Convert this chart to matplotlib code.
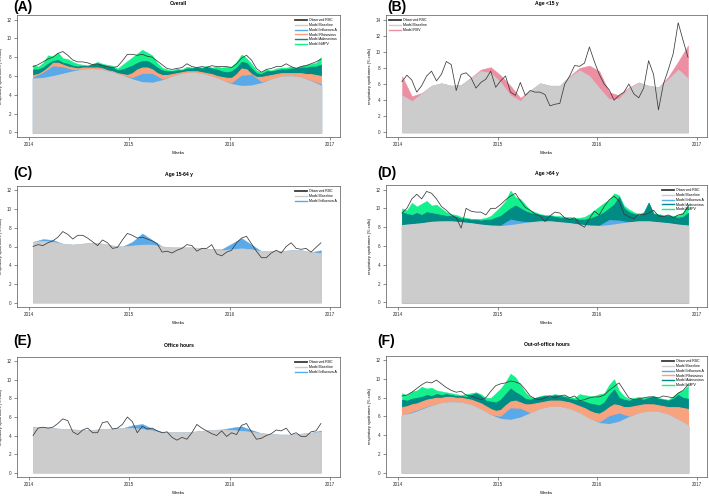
import numpy as np
import matplotlib
matplotlib.use("Agg")
import matplotlib.pyplot as plt
from matplotlib.lines import Line2D

plt.rcParams["font.family"] = ["Liberation Sans", "DejaVu Sans"]

W, H = 709, 497

# decimal-year time axis: fine grid (~2.6 weeks) and coarse grid (~5 weeks)
weeks_fine = np.linspace(2014.04, 2016.91, 59)
weeks_coarse = np.linspace(2014.04, 2016.91, 30)

GREY = "#cccccc"
FLU = "#5aaaea"
RHINO = "#f9a27e"
ADENO = "#008b84"
HMPV = "#14f08c"
RSV = "#ec8fa3"
OBS = "#3a3a3a"

# ---- (A) Overall: cumulative tops of the stacked model components
a_base = [5.7, 5.75, 5.95, 6.2, 6.45, 6.65, 6.7, 6.6, 6.35, 6.0, 5.6, 5.3, 5.25, 5.5, 5.9,
          6.2, 6.35, 6.2, 5.9, 5.5, 5.1, 4.9, 4.95, 5.2, 5.6, 5.9, 5.95, 5.8, 5.4, 4.95]
a_flu = [5.8, 6.3, 7.0, 6.9, 6.6, 6.65, 6.7, 6.6, 6.35, 6.0, 5.75, 6.2, 6.2, 5.6, 5.9,
         6.2, 6.35, 6.2, 5.9, 5.5, 5.2, 6.0, 6.1, 5.3, 5.6, 5.9, 5.95, 5.8, 5.45, 5.1]
a_rhino = [6.1, 6.2, 6.5, 6.9, 7.4, 7.4, 7.2, 7.0, 6.9, 6.8, 6.9, 6.9, 6.9, 6.9, 6.8,
           6.6, 6.5, 6.3, 6.2, 6.1, 6.3, 6.7, 6.9, 6.9, 6.7, 6.3, 6.1, 6.1, 6.2, 6.3,
           6.4, 6.5, 6.5, 6.5, 6.4, 6.3, 6.2, 6.0, 5.9, 5.8, 5.8, 6.2, 6.8, 6.7, 6.2,
           5.9, 5.9, 6.0, 6.1, 6.2, 6.3, 6.3, 6.3, 6.3, 6.3, 6.2, 6.2, 6.1, 6.0]
a_adeno = [6.7, 6.7, 6.9, 7.3, 7.6, 7.7, 7.4, 7.3, 7.1, 7.0, 7.1, 7.1, 7.2, 7.3, 7.2,
           7.0, 6.9, 6.6, 6.7, 6.9, 7.1, 7.4, 7.6, 7.6, 7.3, 6.9, 6.6, 6.5, 6.5, 6.6,
           6.6, 6.8, 6.8, 6.9, 6.8, 6.9, 6.8, 6.7, 6.5, 6.4, 6.5, 6.9, 7.5, 7.4, 6.8,
           6.3, 6.2, 6.5, 6.5, 6.6, 6.7, 6.7, 6.8, 6.8, 6.9, 6.9, 7.0, 7.0, 7.2]
a_hmpv = [7.2, 7.0, 7.4, 8.2, 8.1, 8.5, 7.9, 7.8, 7.5, 7.3, 7.2, 7.1, 7.3, 7.5, 7.3,
          7.2, 7.1, 6.8, 7.2, 7.6, 8.0, 8.4, 8.8, 8.5, 8.2, 7.4, 6.9, 6.7, 6.6, 6.8,
          6.7, 7.0, 6.9, 7.0, 6.9, 7.1, 6.9, 7.0, 6.9, 7.0, 7.0, 7.5, 8.3, 7.9, 7.3,
          6.6, 6.4, 6.7, 6.6, 6.8, 6.9, 6.9, 7.0, 6.9, 7.1, 7.2, 7.3, 7.4, 8.0]
a_obs = [7.0, 7.2, 7.5, 7.8, 8.0, 8.4, 8.6, 8.2, 7.7, 7.5, 7.5, 7.4, 7.2, 7.3, 7.1,
         7.0, 6.9, 7.0, 7.6, 8.3, 8.3, 8.2, 8.3, 8.1, 8.0, 7.6, 7.2, 6.8, 6.7, 6.8,
         6.9, 7.3, 7.0, 6.9, 7.0, 6.9, 7.1, 7.0, 7.0, 7.0, 6.9, 7.3, 7.9, 8.2, 7.7,
         6.8, 6.4, 6.7, 6.8, 7.0, 7.0, 7.3, 7.0, 6.8, 7.0, 7.1, 7.3, 7.5, 7.8]

# ---- (B) Age <15 y
b_base = [4.6, 3.9, 4.8, 5.8, 6.1, 5.8, 5.9, 6.7, 7.6, 7.4, 6.2, 4.6, 3.9, 5.2, 6.1,
          5.8, 5.8, 6.9, 7.7, 7.0, 5.5, 4.1, 4.2, 5.5, 6.1, 5.8, 5.6, 6.6, 7.8, 6.7]
b_rsv = [7.0, 4.5, 4.9, 5.8, 6.1, 5.8, 5.9, 6.8, 7.8, 8.1, 7.1, 5.8, 4.3, 5.2, 6.1,
         5.8, 5.8, 7.0, 8.0, 8.3, 7.6, 5.0, 4.6, 5.6, 6.2, 5.8, 5.6, 6.9, 8.8, 10.8]
b_obs = [6.3, 7.1, 6.5, 5.0, 5.8, 7.0, 7.6, 6.4, 7.2, 8.8, 8.4, 5.2, 7.2, 7.4, 6.8,
         5.5, 6.2, 6.6, 7.6, 5.6, 6.4, 7.0, 5.0, 4.6, 6.2, 4.6, 5.2, 5.0, 5.0, 4.7,
         3.3, 3.5, 3.6, 6.0, 7.0, 8.3, 8.2, 8.6, 10.6, 8.8, 7.2, 6.0, 5.3, 4.0, 4.6,
         5.0, 6.0, 4.8, 4.3, 5.5, 8.9, 7.2, 2.8, 6.0, 7.8, 9.8, 13.6, 11.4, 9.3]

# ---- (C) Age 15-64 y
c_base = [6.5, 6.6, 6.5, 6.3, 6.2, 6.3, 6.4, 6.3, 6.1, 6.0, 6.1, 6.2, 6.2, 6.0, 5.9,
          5.9, 5.9, 5.8, 5.7, 5.6, 5.7, 5.8, 5.7, 5.5, 5.5, 5.5, 5.6, 5.6, 5.4, 5.3]
c_flu = [6.5, 6.8, 6.7, 6.3, 6.2, 6.3, 6.4, 6.3, 6.1, 6.0, 6.5, 7.4, 6.7, 6.0, 5.9,
         5.9, 5.9, 5.8, 5.7, 5.7, 6.3, 6.9, 6.2, 5.5, 5.5, 5.5, 5.6, 5.6, 5.4, 5.6]
c_obs = [6.0, 6.2, 6.1, 6.4, 6.6, 7.0, 7.6, 7.3, 6.8, 7.2, 7.2, 6.9, 6.5, 6.1, 6.7,
         6.4, 5.8, 5.9, 6.7, 7.4, 7.2, 6.9, 7.0, 6.8, 6.6, 6.3, 5.4, 5.5, 5.3, 5.6,
         5.8, 6.2, 6.1, 5.5, 5.8, 5.8, 6.2, 5.2, 5.0, 5.4, 5.6, 6.4, 6.9, 7.1, 6.3,
         5.5, 4.8, 4.8, 5.3, 5.6, 5.3, 6.0, 6.4, 5.8, 5.7, 5.8, 5.4, 5.9, 6.4]

# ---- (D) Age >64 y
d_base = [8.2, 8.3, 8.4, 8.55, 8.6, 8.6, 8.5, 8.4, 8.25, 8.15, 8.1, 8.2, 8.35, 8.5, 8.6,
          8.6, 8.5, 8.4, 8.25, 8.15, 8.1, 8.2, 8.35, 8.5, 8.6, 8.6, 8.5, 8.4, 8.25, 8.15]
d_flu = [8.2, 8.3, 8.4, 8.55, 8.6, 8.6, 8.5, 8.4, 8.25, 8.15, 8.15, 8.8, 8.6, 8.5, 8.6,
         8.6, 8.5, 8.4, 8.25, 8.15, 8.15, 8.75, 8.7, 8.5, 8.6, 8.6, 8.5, 8.4, 8.25, 8.15]
d_adeno = [9.6, 9.4, 9.3, 9.5, 9.3, 9.6, 9.5, 9.4, 9.3, 9.2, 9.2, 9.1, 8.9, 8.9, 8.8,
           8.8, 8.7, 8.8, 8.8, 9.0, 9.2, 9.6, 10.0, 10.3, 10.0, 9.7, 9.5, 9.4, 9.3, 9.2,
           9.2, 9.1, 9.0, 9.0, 8.9, 8.9, 8.8, 8.8, 8.9, 9.1, 9.3, 9.6, 10.0, 10.4, 11.2,
           10.0, 9.6, 9.4, 9.3, 9.5, 10.6, 9.4, 9.3, 9.2, 9.2, 9.1, 9.0, 9.1, 9.5]
d_hmpv = [10.0, 9.8, 10.6, 10.2, 10.5, 10.8, 10.3, 10.4, 10.0, 9.6, 9.4, 9.3, 9.1, 9.0, 8.9,
          8.9, 8.9, 9.0, 9.2, 9.7, 10.2, 10.8, 11.9, 11.2, 11.0, 10.4, 9.8, 9.6, 9.4, 9.3,
          9.3, 9.2, 9.2, 9.1, 9.1, 9.0, 9.0, 9.1, 9.4, 9.8, 10.2, 10.6, 10.9, 11.6, 11.4,
          10.3, 9.9, 9.6, 9.4, 9.6, 10.6, 9.5, 9.4, 9.3, 9.3, 9.2, 9.3, 9.6, 10.4]
d_obs = [9.5, 10.0, 11.0, 11.5, 11.0, 11.8, 11.6, 11.0, 10.2, 9.8, 9.3, 9.0, 7.9, 10.0, 9.7,
         9.6, 9.6, 9.3, 10.0, 10.0, 10.4, 10.9, 11.3, 11.6, 10.8, 10.1, 9.8, 9.4, 9.2, 8.6,
         9.2, 9.6, 9.5, 9.0, 8.8, 9.0, 8.3, 8.0, 8.9, 9.7, 9.3, 10.2, 10.9, 11.3, 10.8,
         9.4, 9.1, 8.9, 9.4, 9.3, 9.5, 9.8, 9.2, 9.1, 9.3, 9.0, 9.3, 9.4, 10.2]

# ---- (E) Office hours
e_base = [4.95, 4.9, 4.8, 4.7, 4.65, 4.6, 4.6, 4.7, 4.75, 4.8, 4.8, 4.7, 4.55, 4.4, 4.35,
          4.35, 4.4, 4.5, 4.6, 4.65, 4.6, 4.5, 4.4, 4.25, 4.15, 4.1, 4.1, 4.2, 4.3, 4.4]
e_flu = [4.95, 4.9, 4.8, 4.7, 4.65, 4.6, 4.6, 4.7, 4.75, 4.8, 5.1, 5.25, 4.75, 4.4, 4.35,
         4.35, 4.4, 4.5, 4.6, 4.65, 4.85, 5.0, 4.6, 4.25, 4.15, 4.1, 4.1, 4.2, 4.3, 4.55]
e_obs = [4.0, 4.8, 4.9, 4.8, 4.9, 5.3, 5.8, 5.6, 4.4, 4.1, 4.6, 4.8, 4.3, 4.3, 5.4,
         5.5, 4.7, 4.8, 5.2, 6.0, 5.5, 4.3, 5.0, 4.7, 4.8, 4.5, 4.3, 4.4, 3.8, 3.5,
         3.8, 3.6, 4.3, 5.2, 4.8, 4.5, 4.2, 4.0, 4.5, 3.9, 4.3, 4.1, 5.1, 5.3, 4.4,
         3.6, 3.7, 4.0, 4.2, 4.6, 4.5, 4.8, 4.1, 4.3, 3.9, 3.9, 4.4, 4.5, 5.3]

# ---- (F) Out-of-office hours
f_base = [6.1, 6.3, 6.7, 7.1, 7.4, 7.5, 7.45, 7.2, 6.7, 6.1, 5.7, 5.6, 5.85, 6.3, 6.75,
          7.0, 7.0, 6.75, 6.3, 5.7, 5.25, 5.15, 5.4, 5.9, 6.3, 6.5, 6.45, 6.15, 5.6, 5.0]
f_flu = [6.1, 6.4, 6.8, 7.15, 7.4, 7.5, 7.45, 7.2, 6.7, 6.1, 5.95, 6.85, 6.8, 6.3, 6.75,
         7.0, 7.0, 6.75, 6.3, 5.7, 5.3, 6.0, 6.3, 5.95, 6.3, 6.5, 6.45, 6.15, 5.6, 5.0]
f_rhino = [7.0, 7.1, 7.3, 7.4, 7.6, 7.8, 7.9, 8.0, 8.0, 8.1, 8.1, 8.0, 8.0, 7.9, 7.8,
           7.6, 7.4, 7.1, 6.8, 6.6, 6.7, 7.2, 7.6, 7.7, 7.5, 7.3, 7.3, 7.4, 7.5, 7.6,
           7.7, 7.7, 7.7, 7.6, 7.5, 7.3, 7.1, 6.9, 6.6, 6.4, 6.3, 6.6, 7.0, 7.3, 7.2,
           7.0, 7.0, 7.1, 7.2, 7.3, 7.3, 7.3, 7.2, 7.1, 7.0, 7.0, 7.0, 6.9, 6.8]
f_adeno = [7.8, 7.7, 7.9, 8.0, 8.1, 8.3, 8.2, 8.4, 8.3, 8.4, 8.3, 8.2, 8.2, 8.1, 8.3,
           8.5, 8.2, 7.7, 7.6, 7.5, 7.8, 8.4, 9.0, 8.6, 8.3, 7.9, 7.8, 8.0, 8.1, 8.2,
           8.1, 8.3, 8.2, 8.1, 7.9, 7.8, 7.7, 7.6, 7.4, 7.3, 7.2, 7.5, 8.3, 8.9, 8.0,
           7.8, 7.7, 7.8, 7.9, 7.8, 8.0, 8.1, 7.9, 7.8, 7.7, 7.9, 8.3, 8.0, 7.9]
f_hmpv = [8.5, 8.3, 8.7, 8.8, 9.2, 9.0, 9.1, 8.8, 8.7, 8.6, 8.5, 8.4, 8.3, 8.4, 8.5,
          8.6, 8.4, 8.0, 8.0, 8.5, 9.0, 9.7, 10.6, 10.2, 9.4, 8.6, 8.1, 8.0, 8.2, 8.3,
          8.3, 8.4, 8.3, 8.2, 8.1, 8.0, 8.4, 8.3, 8.2, 8.2, 8.4, 8.5, 9.4, 10.0, 8.8,
          8.2, 7.9, 8.0, 8.1, 8.0, 8.1, 8.2, 8.0, 7.9, 7.8, 8.2, 8.6, 8.8, 9.3]
f_obs = [8.2, 8.3, 8.6, 9.0, 9.4, 9.7, 9.6, 9.9, 9.5, 9.1, 8.8, 8.6, 8.7, 8.3, 8.2,
         8.0, 7.8, 8.0, 8.7, 9.3, 9.5, 9.6, 9.8, 9.7, 9.5, 8.9, 8.2, 7.9, 7.8, 8.0,
         8.2, 8.0, 8.2, 8.3, 8.0, 8.2, 7.7, 7.8, 8.0, 8.1, 8.1, 8.3, 8.8, 9.2, 9.6,
         8.8, 8.0, 7.8, 7.9, 8.0, 8.1, 8.1, 8.0, 8.2, 8.1, 8.0, 8.5, 8.8, 9.4]

LEGEND_NAMES = {
    "obs": ("Observed RSC", OBS),
    "base": ("Model Baseline", GREY),
    "flu": ("Model Influenza A", FLU),
    "rhino": ("Model Rhinovirus", RHINO),
    "adeno": ("Model Adenovirus", ADENO),
    "hmpv": ("Model hMPV", HMPV),
    "rsv": ("Model RSV", RSV),
}


def fig_x(px):
    return px / W


def fig_y(py):
    return 1 - py / H


def make_axes(fig, x0, y0, x1, y1):
    return fig.add_axes([x0 / W, 1 - y1 / H, (x1 - x0) / W, (y1 - y0) / H])


def draw_panel(ax, layers, obs, ymax, keys, legend_loc, ylab_x):
    # layers listed from bottom to top; paint the highest first so the lower
    # ones cover it (each layer is a cumulative top). Each lower layer gets a
    # slightly wider same-colour edge so no seam of the layer above shows.
    for depth, (x, top, color) in enumerate(reversed(layers)):
        ax.fill_between(x, 0, top, facecolor=color, edgecolor=color,
                        lw=0.3 + 0.25 * depth)
    ax.plot(weeks_fine, obs, color=OBS, lw=0.55)

    pad = ymax * 0.04
    ax.set_xlim(2013.88, 2017.10)
    ax.set_ylim(-pad, ymax + pad)
    ax.set_xticks([2014, 2015, 2016, 2017])
    ax.set_yticks(np.arange(0, ymax + 1, 2))
    ax.tick_params(direction="out", length=2.4, width=0.4, pad=1.5,
                   labelsize=3.3, colors="#333333")
    for s in ax.spines.values():
        s.set_linewidth(0.5)
        s.set_color("#555555")
    ax.set_xlabel("Weeks", fontsize=3.2, labelpad=2.5)
    ax.set_ylabel("respiratory syndromes (% calls)", fontsize=2.9)
    ax.yaxis.set_label_coords(ylab_x, 0.5)

    handles = []
    for k in keys:
        name, col = LEGEND_NAMES[k]
        handles.append(Line2D([], [], color=col, lw=1.3 if k == "obs" else 1.0, label=name))
    ax.legend(handles=handles, loc=legend_loc, fontsize=2.5, frameon=False,
              handlelength=3.2, handletextpad=0.6, labelspacing=0.2,
              borderaxespad=0.6)


fig = plt.figure(figsize=(W / 100, H / 100), dpi=100)

panels = [
    # label + its centre, title, box (x0, y0, x1, y1), layers, obs, ymax, legend keys, legend loc
    ("(A)", (23, 7), "Overall", (17, 15, 340, 137),
     [(weeks_coarse, a_base, GREY), (weeks_coarse, a_flu, FLU), (weeks_fine, a_rhino, RHINO),
      (weeks_fine, a_adeno, ADENO), (weeks_fine, a_hmpv, HMPV)],
     a_obs, 12, ["obs", "base", "flu", "rhino", "adeno", "hmpv"], "upper right"),
    ("(B)", (397, 7), "Age <15 y", (386, 15, 707, 137),
     [(weeks_coarse, b_base, GREY), (weeks_coarse, b_rsv, RSV)],
     b_obs, 14, ["obs", "base", "rsv"], "upper left"),
    ("(C)", (23, 173), "Age 15-64 y", (17, 186, 340, 307),
     [(weeks_coarse, c_base, GREY), (weeks_coarse, c_flu, FLU)],
     c_obs, 12, ["obs", "base", "flu"], "upper right"),
    ("(D)", (387, 173), "Age >64 y", (386, 185, 707, 307),
     [(weeks_coarse, d_base, GREY), (weeks_coarse, d_flu, FLU),
      (weeks_fine, d_adeno, ADENO), (weeks_fine, d_hmpv, HMPV)],
     d_obs, 12, ["obs", "base", "flu", "adeno", "hmpv"], "upper right"),
    ("(E)", (23, 341), "Office hours", (17, 357, 340, 477),
     [(weeks_coarse, e_base, GREY), (weeks_coarse, e_flu, FLU)],
     e_obs, 12, ["obs", "base", "flu"], "upper right"),
    ("(F)", (386, 341), "Out-of-office hours", (386, 356, 707, 477),
     [(weeks_coarse, f_base, GREY), (weeks_coarse, f_flu, FLU), (weeks_fine, f_rhino, RHINO),
      (weeks_fine, f_adeno, ADENO), (weeks_fine, f_hmpv, HMPV)],
     f_obs, 12, ["obs", "base", "flu", "rhino", "adeno", "hmpv"], "upper right"),
]

for label, (lx, ly), title, box, layers, obs, ymax, keys, loc in panels:
    x0, y0, x1, y1 = box
    ax = make_axes(fig, x0, y0, x1, y1)
    # y label about 14 px left of the frame
    draw_panel(ax, layers, obs, ymax, keys, loc, ylab_x=-14 / (x1 - x0))
    ax.set_title(title, fontsize=3.6, fontweight="bold", pad=7)
    fig.text(fig_x(lx), fig_y(ly), label, fontsize=10, fontweight="bold",
             ha="center", va="center")

fig.savefig("out.png", dpi=100)
